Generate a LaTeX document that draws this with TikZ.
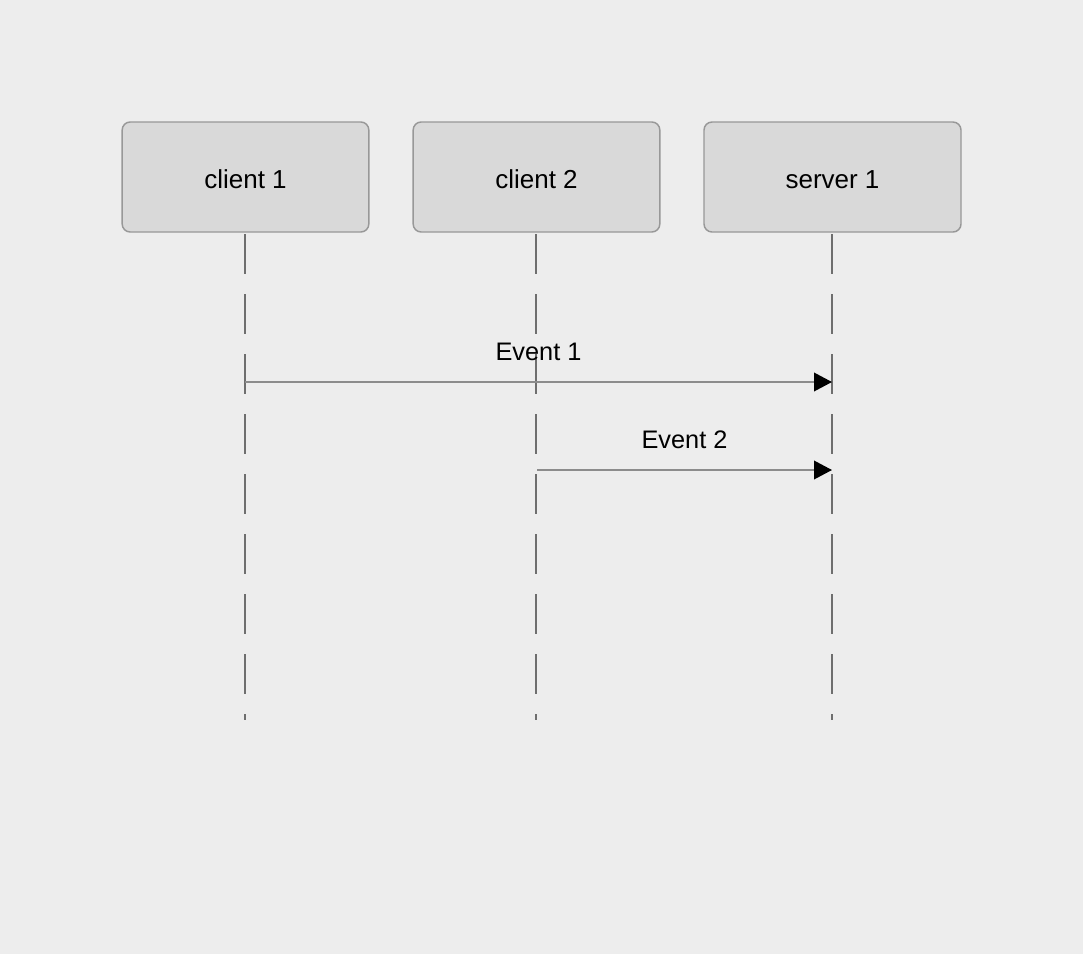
\documentclass[tikz,border=0pt]{standalone}
\usepackage{fontspec}
\setmainfont{Liberation Sans}
\usetikzlibrary{arrows.meta}
\definecolor{bgcol}{HTML}{EDEDED}
\definecolor{boxfill}{HTML}{D9D9D9}
\definecolor{boxline}{HTML}{989898}
\definecolor{lifecol}{HTML}{6E6E6E}
\definecolor{msgcol}{HTML}{8C8C8C}
\begin{document}
\begin{tikzpicture}
[x=0.75pt,y=-0.75pt,
 actor/.style={rectangle,rounded corners=6pt,draw=boxline,fill=boxfill,line width=1.1pt,
    minimum width=185pt,minimum height=82.5pt,inner sep=0pt,text height=17.2pt,text depth=0pt,
    font=\fontsize{19.5}{23}\selectfont},
 lifeline/.style={draw=lifecol,line width=1.1pt,dash pattern=on 30pt off 15pt},
 message/.style={draw=msgcol,line width=1.1pt,-{Triangle[length=13.5pt,width=14pt,black]}},
 evlabel/.style={inner sep=0pt,font=\fontsize{19}{23}\selectfont}]
\useasboundingbox[fill=bgcol] (0,0) rectangle (1083,954);

\node[actor] (c1) at (245.5,177) {client 1};
\node[actor] (c2) at (536.5,177) {client 2};
\node[actor,minimum width=192.75pt] (s1) at (832.5,177) {server 1};

\coordinate (c1top) at (245,234);
\coordinate (c2top) at (536,234);
\coordinate (s1top) at (832,234);
\coordinate (c1end) at (245,720);
\coordinate (c2end) at (536,720);
\coordinate (s1end) at (832,720);

\draw [lifeline] (c1top) -- (c1end);
\draw [lifeline] (c2top) -- (c2end);
\draw [lifeline] (s1top) -- (s1end);

\coordinate (e1a) at (245,382);
\coordinate (e1b) at (832,382);
\coordinate (e2a) at (537,470);
\coordinate (e2b) at (832,470);

\draw [message] (e1a) -- (e1b);
\draw [message] (e2a) -- (e2b);

\node[evlabel,anchor=base] (ev1) at (538.5,360) {Event 1};
\node[evlabel,anchor=base] (ev2) at (684.5,448) {Event 2};
\end{tikzpicture}
\end{document}
